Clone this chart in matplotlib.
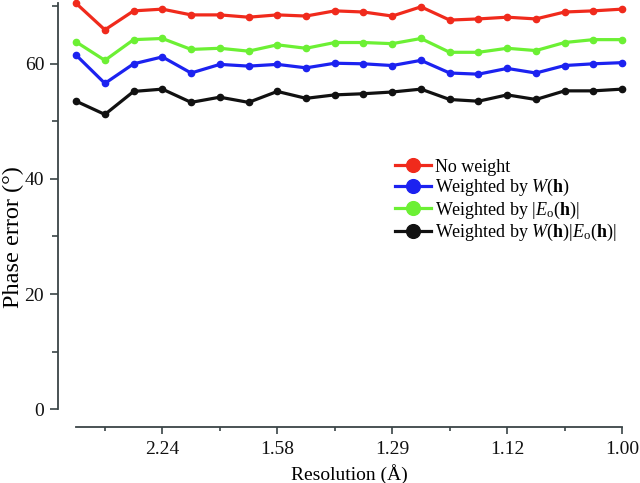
import numpy as np
import matplotlib
matplotlib.use("Agg")
import matplotlib.pyplot as plt
from matplotlib.ticker import FixedLocator, FuncFormatter

plt.rcParams["font.family"] = ["Liberation Serif", "DejaVu Serif"]
plt.rcParams["mathtext.fontset"] = "custom"
plt.rcParams["mathtext.rm"] = "Liberation Serif"
plt.rcParams["mathtext.it"] = "Liberation Serif:italic"
plt.rcParams["mathtext.bf"] = "Liberation Serif:bold"

# shells in 1/d^2 (A^-2)
inv_d2 = [0.05, 0.10, 0.15, 0.20, 0.25, 0.30, 0.35, 0.40, 0.45, 0.50,
          0.55, 0.60, 0.65, 0.70, 0.75, 0.80, 0.85, 0.90, 0.95, 1.00]

no_weight = [70.5, 65.9, 69.2, 69.5, 68.5, 68.5, 68.1, 68.5, 68.3, 69.2,
             69.0, 68.3, 69.9, 67.6, 67.8, 68.1, 67.8, 69.0, 69.2, 69.5]
w_h = [61.5, 56.6, 60.0, 61.2, 58.4, 59.9, 59.6, 59.9, 59.3, 60.1,
       60.0, 59.7, 60.6, 58.4, 58.2, 59.2, 58.4, 59.7, 60.0, 60.2]
eo_h = [63.8, 60.6, 64.2, 64.4, 62.5, 62.7, 62.2, 63.3, 62.7, 63.7,
        63.7, 63.5, 64.4, 62.0, 62.0, 62.7, 62.3, 63.7, 64.2, 64.2]
w_eo_h = [53.5, 51.2, 55.2, 55.6, 53.3, 54.2, 53.3, 55.2, 54.0, 54.6,
          54.8, 55.1, 55.6, 53.8, 53.5, 54.6, 53.8, 55.3, 55.3, 55.6]

series = [
    (no_weight, "#f02a1c", "No weight"),
    (w_h, "#1c22f0", r"Weighted by $\mathit{W}(\mathbf{h})$"),
    (eo_h, "#6cf034", r"Weighted by $|\mathit{E}_{\mathrm{o}}(\mathbf{h})|$"),
    (w_eo_h, "#111111", r"Weighted by $\mathit{W}(\mathbf{h})|\mathit{E}_{\mathrm{o}}(\mathbf{h})|$"),
]

fig = plt.figure(figsize=(6.4, 4.83), dpi=100)
ax = fig.add_axes([0.119, 0.153, 0.853, 0.840])

for vals, col, lab in series:
    ax.plot(inv_d2, vals, color=col, lw=2.3, marker="o", ms=4.5,
            label=lab, clip_on=False)

ax.set_xlim(0.05, 1.0)
ax.set_ylim(0, 70.5)

for s in ["top", "right"]:
    ax.spines[s].set_visible(False)
spine_col = "#3a4447"
ax.spines["left"].set_position(("outward", 13))
ax.spines["bottom"].set_position(("outward", 13))
for s in ["left", "bottom"]:
    ax.spines[s].set_color(spine_col)
    ax.spines[s].set_linewidth(1.3)

ax.yaxis.set_major_locator(FixedLocator([0, 20, 40, 60]))
ax.yaxis.set_minor_locator(FixedLocator([10, 30, 50, 70]))
ax.xaxis.set_major_locator(FixedLocator([0.2, 0.4, 0.6, 0.8, 1.0]))
ax.xaxis.set_minor_locator(FixedLocator([0.1, 0.3, 0.5, 0.7, 0.9]))
ax.xaxis.set_major_formatter(FuncFormatter(lambda v, p: f"{1/np.sqrt(v):.2f}"))

ax.tick_params(axis="both", which="both", direction="out", colors=spine_col,
               labelcolor="#111111", labelsize=14, width=1.2)
ax.tick_params(axis="y", which="major", length=6, pad=4)
ax.tick_params(axis="y", which="minor", length=4)
ax.tick_params(axis="x", which="major", length=5, pad=5)
ax.tick_params(axis="x", which="minor", length=3)

ax.set_ylabel("Phase error (°)", fontsize=17.5)
ax.yaxis.set_label_coords(-0.096, 0.424)
ax.set_xlabel("Resolution (Å)", fontsize=14, labelpad=4)

ax.legend(loc="upper left", bbox_to_anchor=(0.57, 0.635), frameon=False,
          fontsize=13, handlelength=2.0, handletextpad=0.25, labelspacing=0.08,
          markerscale=2.2, borderaxespad=0)

fig.savefig("out.png", dpi=100)
